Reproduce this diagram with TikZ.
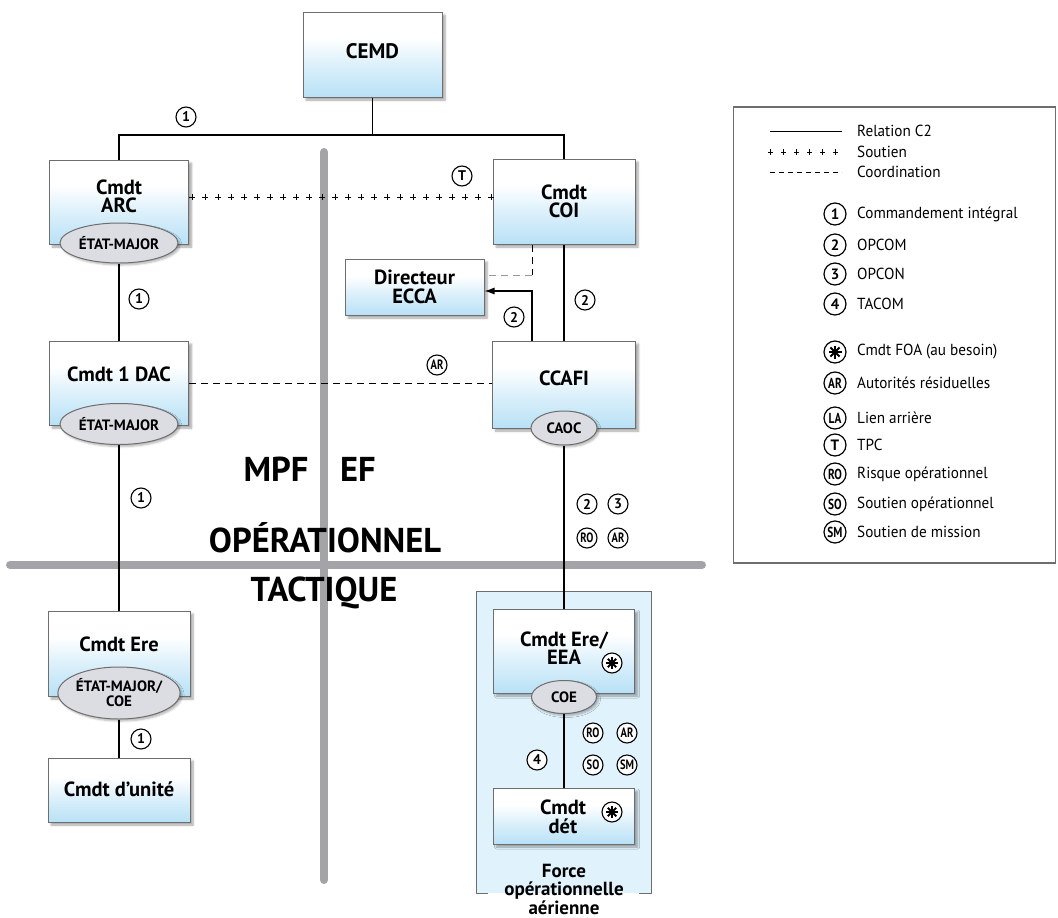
\documentclass[tikz,border=0pt]{standalone}
\usepackage{fontspec}
\setmainfont{PT Sans}
\newfontfamily\condfont[FakeStretch=0.78]{PT Sans}
\newfontfamily\legfont[FakeStretch=0.95]{PT Sans}
\usetikzlibrary{shapes.geometric,shadows.blur,arrows.meta,decorations.markings,calc}
\definecolor{boxblue}{RGB}{184,225,246}
\definecolor{boxmid}{RGB}{222,241,251}
\definecolor{ellfill}{RGB}{220,221,226}
\definecolor{bordgrey}{RGB}{110,110,110}
\definecolor{bargrey}{RGB}{163,163,168}
\definecolor{forcefill}{RGB}{224,242,251}
\pgfdeclareverticalshading{boxshade}{100bp}{color(0bp)=(boxblue); color(25bp)=(boxblue); color(45bp)=(boxmid); color(60bp)=(white); color(100bp)=(white)}
\newcommand\fsz[1]{\fontsize{#1}{#1}\selectfont}
\tikzset{
  box/.style={rectangle, draw=bordgrey, line width=1pt, shading=boxshade,
    blur shadow={shadow xshift=3pt, shadow yshift=-3pt, shadow blur steps=6, shadow opacity=35}, inner sep=0pt},
  ell/.style={ellipse, draw=bordgrey, line width=1pt, fill=ellfill, inner sep=0pt, align=center,
    font=\bfseries\fontsize{15}{15}\selectfont,
    blur shadow={shadow xshift=2pt, shadow yshift=-2pt, shadow blur steps=5, shadow opacity=30}},
  btxt/.style={font=\bfseries\fontsize{20.5}{18.5}\selectfont, align=center, inner sep=0pt},
  bigtxt/.style={font=\bfseries\fsz{34.5}, inner sep=0pt},
  circ/.style={circle, draw, line width=1.1pt, fill=white, inner sep=0pt, minimum size=20pt, font=\bfseries\fsz{14}},
  circl/.style={circ, font=\condfont\bfseries\fsz{13.5}},
  astr/.style={circ, path picture={
     \foreach \a in {0,45,90,135}
       \draw[line width=1.9pt] ($(path picture bounding box.center)+(\a:6pt)$) -- ($(path picture bounding box.center)+({\a+180}:6pt)$);}},
  rel/.style={line width=1.3pt},
  coordln/.style={line width=1pt, dash pattern=on 7pt off 5pt},
  coordlight/.style={line width=1pt, draw=black!40, dash pattern=on 7pt off 5pt},
  soutien/.style={decorate, decoration={markings, mark=between positions 0.01 and 1 step 13pt with {
     \draw[line width=1pt] (-2.7pt,0) -- (2.7pt,0) (0,-2.7pt) -- (0,2.7pt);}}},
  bar/.style={line width=8pt, draw=bargrey, line cap=round},
  fboxst/.style={rectangle, fill=forcefill, draw=none, inner sep=0pt},
  fborder/.style={line width=1.2pt, draw=bordgrey},
  legtxt/.style={anchor=west, inner sep=0pt, font=\legfont\fsz{16}},
  lcirc/.style={circle, draw, line width=1.2pt, fill=white, inner sep=0pt, minimum size=22pt, font=\bfseries\fsz{15}},
  lcircl/.style={lcirc, font=\condfont\bfseries\fsz{14.5}},
  lastr/.style={lcirc, path picture={
     \foreach \a in {0,45,90,135}
       \draw[line width=2pt] ($(path picture bounding box.center)+(\a:6.5pt)$) -- ($(path picture bounding box.center)+({\a+180}:6.5pt)$);}},
}
\begin{document}
\begin{tikzpicture}[x=1pt,y=-1pt]
\useasboundingbox (0,0) rectangle (1058,918);
% separator bars
\coordinate (vb1) at (324,152);
\coordinate (vb2) at (324,880);
\coordinate (hb1) at (10,565);
\coordinate (hb2) at (702,565);
\draw[bar] (vb1) -- (vb2);
\draw[bar] (hb1) -- (hb2);
% force box
\node[fboxst, minimum width=174pt, minimum height=301pt] (fbox) at (564,742.5) {};
\draw[fborder] ($(fbox.south west)+(11,0)$) -- (fbox.south west) -- (fbox.north west) -- (fbox.north east) -- (fbox.south east) -- ($(fbox.south east)+(-12,0)$);
\node[font=\bfseries\fontsize{19}{18.5}\selectfont, align=center, inner sep=0pt] (fbox-t) at (564,889) {Force\\opérationnelle\\aérienne};

% boxes
\node[box, minimum width=139pt, minimum height=85pt] (cemd) at (372.5,54.5) {};
\node[box, minimum width=139pt, minimum height=84pt] (arc) at (119,202) {};
\node[box, minimum width=139pt, minimum height=84pt] (dac) at (119,383) {};
\node[box, minimum width=142pt, minimum height=85pt] (ere) at (119,653.5) {};
\node[box, minimum width=142pt, minimum height=64pt] (unite) at (119,790) {};
\node[box, minimum width=139pt, minimum height=56pt] (ecca) at (414.5,287) {};
\node[box, minimum width=142pt, minimum height=85pt] (coi) at (564,201.5) {};
\node[box, minimum width=143pt, minimum height=87pt] (ccafi) at (564,384.5) {};
\node[box, minimum width=141pt, minimum height=84pt] (eea) at (564,651) {};
\node[box, minimum width=141pt, minimum height=56pt] (det) at (564,816) {};

% ellipses
\node[ell, minimum width=118pt, minimum height=40pt] (em1) at (119,243) {ÉTAT-MAJOR};
\node[ell, minimum width=118pt, minimum height=41pt] (em2) at (119,424) {ÉTAT-MAJOR};
\node[ell, minimum width=120pt, minimum height=52pt, font=\bfseries\fontsize{15}{15}\selectfont] (em3) at (119,693) {ÉTAT-MAJOR/\\COE};
\node[ell, minimum width=66pt, minimum height=34pt] (caoc) at (564,428) {CAOC};
\node[ell, minimum width=65pt, minimum height=33pt] (coe) at (564,697) {COE};

% connectors
\coordinate (top) at (372.5,135);
\draw[rel] (cemd.south) -- (top);
\draw[rel] (top) -| (arc.north);
\draw[rel] (top) -| (coi.north);
\draw[rel] (em1.south) -- (dac.north);
\draw[rel] (em2.south) -- (ere.north);
\draw[rel] (em3.south) -- (unite.north);
\draw[rel] (coi.south) -- (ccafi.north);
\draw[rel] (caoc.south) -- (eea.north);
\draw[rel] (coe.south) -- (det.north);
\coordinate (pl) at (0,197);
\path[soutien] (arc.east |- pl) -- (coi.west |- pl);
\coordinate (cl) at (0,383);
\draw[coordln] (dac.east |- cl) -- (ccafi.west |- cl);
\coordinate (d1) at (532,275);
\draw[coordln] (coi.south -| d1) -- (d1);
\draw[coordlight] (d1) -- (d1 -| ecca.east);
\coordinate (a1) at (532,291);
\draw[line width=1.1pt, -{Latex[length=10pt,width=7pt]}] (ccafi.north -| a1) -- (a1) -- (a1 -| ecca.east);

% box texts
\node[btxt, font=\bfseries\fsz{21}] (cemd-t) at (372.5,51) {CEMD};
\node[btxt] (arc-t) at (119,196.5) {Cmdt\\ARC};
\node[btxt] (dac-t) at (119,374) {Cmdt 1 DAC};
\node[btxt] (ere-t) at (119,644) {Cmdt Ere};
\node[btxt] (unite-t) at (119,789) {Cmdt d’unité};
\node[btxt] (ecca-t) at (414.5,287) {Directeur\\ECCA};
\node[btxt] (coi-t) at (564,201.5) {Cmdt\\COI};
\node[btxt] (ccafi-t) at (564,378) {CCAFI};
\node[btxt] (eea-t) at (564,648) {Cmdt Ere/\\EEA};
\node[btxt] (det-t) at (563,817) {Cmdt\\dét};

% big labels
\node[bigtxt] (mpf) at (276,469) {MPF};
\node[bigtxt] (ef) at (358,469) {EF};
\node[bigtxt] (oper) at (325,538) {OPÉRATIONNEL};
\node[bigtxt] (tact) at (324,593) {TACTIQUE};

% circled labels
\node[circ] (c1a) at (186,117) {1};
\node[circ] (cT) at (462,176) {T};
\node[circ] (c1b) at (139,299) {1};
\node[circ] (c2a) at (585,300) {2};
\node[circ] (c2b) at (514,317) {2};
\node[circl] (cARa) at (437,365) {AR};
\node[circ] (c1c) at (141,498) {1};
\node[circ] (c2c) at (587,504) {2};
\node[circ] (c3a) at (618,504) {3};
\node[circl] (cROa) at (587,538) {RO};
\node[circl] (cARb) at (618,538) {AR};
\node[circ] (c1d) at (141,739) {1};
\node[circ] (c4a) at (537,760) {4};
\node[circl] (cROb) at (593,733) {RO};
\node[circl] (cARc) at (627,733) {AR};
\node[circl] (cSOa) at (593,765) {SO};
\node[circl] (cSMa) at (627,765) {SM};
\node[astr] (ast1) at (612,663) {};
\node[astr] (ast2) at (612,812) {};

% legend
\node[draw=bordgrey, line width=1.5pt, minimum width=322pt, minimum height=456pt, inner sep=0pt] (leg) at (894.5,335) {};
\coordinate (g1a) at (770,131); \coordinate (g1b) at (842,131);
\coordinate (g2a) at (770,152); \coordinate (g2b) at (842,152);
\coordinate (g3a) at (770,172); \coordinate (g3b) at (842,172);
\draw[line width=1pt] (g1a) -- (g1b);
\path[soutien] (g2a) -- (g2b);
\draw[line width=1pt, dash pattern=on 5pt off 4pt] (g3a) -- (g3b);
\node[legtxt] (lt1) at (857,131) {Relation C2};
\node[legtxt] (lt2) at (857,152) {Soutien};
\node[legtxt] (lt3) at (857,172) {Coordination};
\node[lcirc] (lc1) at (835,214) {1};
\node[legtxt] (lc1t) at (857,214) {Commandement intégral};
\node[lcirc] (lc2) at (835,245) {2};
\node[legtxt] (lc2t) at (857,245) {OPCOM};
\node[lcirc] (lc3) at (835,274) {3};
\node[legtxt] (lc3t) at (857,274) {OPCON};
\node[lcirc] (lc4) at (835,304) {4};
\node[legtxt] (lc4t) at (857,304) {TACOM};
\node[lastr] (lc5) at (835,352) {};
\node[legtxt] (lc5t) at (857,352) {Cmdt FOA (au besoin)};
\node[lcircl] (lc6) at (835,383) {AR};
\node[legtxt] (lc6t) at (857,383) {Autorités résiduelles};
\node[lcircl] (lc7) at (835,418) {LA};
\node[legtxt] (lc7t) at (857,418) {Lien arrière};
\node[lcirc] (lc8) at (835,445) {T};
\node[legtxt] (lc8t) at (857,445) {TPC};
\node[lcircl] (lc9) at (835,474) {RO};
\node[legtxt] (lc9t) at (857,474) {Risque opérationnel};
\node[lcircl] (lc10) at (835,504) {SO};
\node[legtxt] (lc10t) at (857,504) {Soutien opérationnel};
\node[lcircl] (lc11) at (835,532) {SM};
\node[legtxt] (lc11t) at (857,532) {Soutien de mission};
\end{tikzpicture}
\end{document}
